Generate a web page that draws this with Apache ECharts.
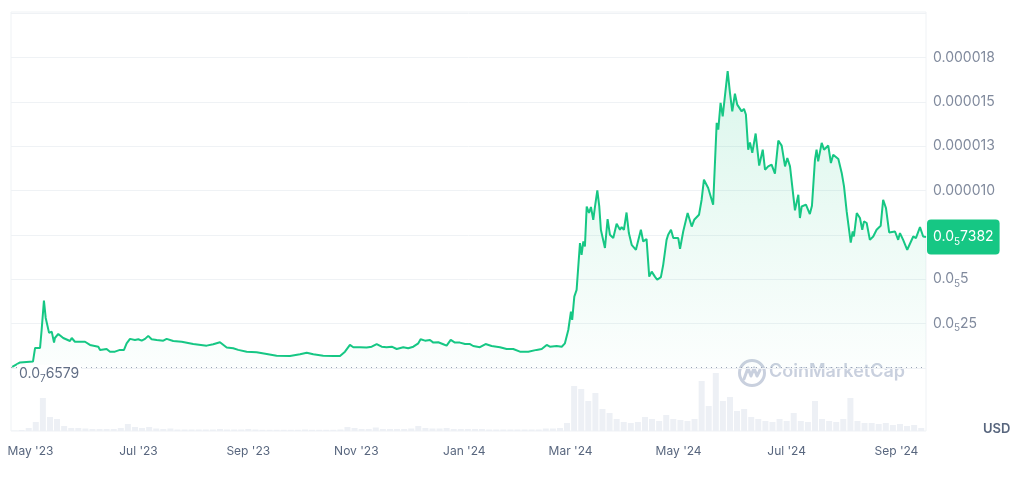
<!DOCTYPE html>
<html>
<head>
<meta charset="utf-8">
<script src="https://cdn.jsdelivr.net/npm/echarts@6/dist/echarts.min.js"></script>
<style>
  html, body { margin: 0; padding: 0; background: #ffffff; }
  #chart { width: 1024px; height: 478px; }
</style>
</head>
<body>
<div id="chart"></div>
<script>
// ---------- data (price in micro-USD, i.e. x 1e-6 USD) ----------
const startDate = '2023-04-20';           // first day of the chart window
const endDay = 516.7;                      // last day shown (days after startDate)

// days after startDate
const priceDays = [
  0.7, 5.1, 12.4, 13.6, 14.5, 16.4, 17.3, 18.6, 19.6, 20.5,
  21.5, 23.0, 24.3, 24.8, 26.7, 29.5, 33.3, 34.3, 36.1, 39.0,
  41.8, 44.6, 49.3, 50.3, 54.0, 55.9, 58.7, 61.5, 63.8, 65.3,
  67.2, 70.0, 71.9, 73.8, 75.7, 77.5, 79.4, 82.3, 86.0, 87.9,
  91.6, 96.4, 102.9, 110.5, 114.2, 118.0, 121.8, 125.5, 128.3, 133.1,
  138.7, 144.4, 150.0, 157.5, 163.2, 167.0, 170.7, 176.3, 182.0, 185.8,
  188.6, 191.4, 193.3, 197.1, 200.8, 203.7, 206.5, 209.3, 212.1, 215.0,
  217.8, 221.5, 224.3, 227.2, 230.0, 231.3, 233.8, 236.6, 238.5, 241.3,
  244.1, 246.0, 248.3, 250.7, 253.5, 256.4, 259.2, 261.0, 264.8, 268.0,
  271.4, 276.1, 279.9, 283.6, 287.4, 292.1, 296.8, 299.7, 302.5, 304.3,
  308.1, 311.0, 312.8, 314.7, 316.2, 316.9, 318.1, 319.4, 321.3, 322.2,
  323.2, 324.1, 325.1, 326.4, 327.5, 328.8, 329.8, 331.1, 332.2, 333.1,
  334.1, 335.4, 336.9, 338.2, 340.1, 342.0, 343.9, 344.8, 346.1, 347.6,
  348.9, 350.5, 352.9, 355.7, 357.0, 358.9, 360.4, 361.8, 363.6, 364.9,
  367.0, 368.3, 370.2, 371.1, 372.7, 374.0, 376.8, 377.8, 379.6, 382.1,
  384.4, 385.8, 388.5, 390.0, 391.3, 393.7, 394.7, 396.5, 398.5, 399.4,
  400.7, 401.9, 404.7, 406.0, 407.3, 408.8, 410.1, 412.6, 413.9, 415.0,
  416.3, 417.3, 418.6, 420.5, 422.5, 424.5, 425.8, 427.6, 429.5, 431.4,
  433.3, 435.2, 437.1, 438.4, 439.9, 442.7, 444.6, 445.5, 446.5, 448.9,
  451.1, 452.3, 454.0, 454.9, 455.8, 457.8, 459.1, 461.5, 463.0, 464.3,
  467.2, 469.1, 470.4, 471.9, 474.2, 475.3, 476.0, 477.6, 479.4, 480.7,
  481.7, 483.2, 485.0, 486.9, 488.8, 491.1, 492.5, 494.1, 495.9, 499.2,
  501.0, 502.0, 503.8, 506.1, 509.5, 511.0, 513.3, 515.1, 516.7
];
const priceValues = [
  0.066, 0.31, 0.36, 1.13, 1.20, 1.13, 2.14, 3.80, 2.82, 2.82,
  1.98, 2.05, 1.43, 1.69, 1.92, 1.69, 1.52, 1.69, 1.48, 1.48,
  1.48, 1.30, 1.20, 1.02, 1.07, 0.92, 0.92, 1.02, 1.02, 1.39,
  1.64, 1.58, 1.62, 1.54, 1.64, 1.81, 1.62, 1.58, 1.54, 1.64,
  1.52, 1.48, 1.35, 1.26, 1.34, 1.45, 1.15, 1.11, 1.02, 0.92,
  0.89, 0.79, 0.69, 0.68, 0.77, 0.86, 0.77, 0.69, 0.68, 0.68,
  0.92, 1.30, 1.17, 1.17, 1.15, 1.20, 1.35, 1.20, 1.17, 1.20,
  1.07, 1.17, 1.11, 1.20, 1.39, 1.62, 1.54, 1.58, 1.43, 1.45,
  1.34, 1.26, 1.58, 1.43, 1.43, 1.35, 1.35, 1.24, 1.17, 1.35,
  1.24, 1.17, 1.07, 1.07, 0.92, 0.92, 1.02, 1.07, 1.30, 1.20,
  1.24, 1.20, 1.39, 2.14, 3.18, 2.71, 4.02, 4.40, 7.04, 6.38,
  7.13, 6.85, 9.10, 8.73, 9.07, 8.35, 9.10, 10.01, 9.10, 7.79,
  7.88, 6.76, 8.39, 7.51, 7.32, 8.13, 7.79, 7.94, 7.79, 8.76,
  7.60, 6.94, 6.66, 7.79, 7.13, 7.26, 5.15, 5.43, 5.15, 4.97,
  5.12, 5.81, 7.22, 7.51, 7.79, 7.32, 7.32, 6.72, 7.69, 8.73,
  7.97, 8.35, 8.63, 9.48, 10.61, 10.14, 10.23, 9.20, 13.81, 13.43,
  14.94, 14.18, 16.72, 15.50, 14.46, 15.45, 14.84, 14.46, 14.60, 14.28,
  12.30, 12.71, 12.12, 13.21, 11.40, 12.30, 11.17, 11.36, 11.46, 10.95,
  12.81, 12.53, 11.36, 11.83, 11.36, 8.88, 9.76, 8.45, 9.10, 9.20,
  8.67, 9.14, 11.74, 12.30, 11.64, 12.68, 12.30, 12.53, 11.55, 12.02,
  11.78, 10.99, 10.23, 8.82, 7.07, 7.69, 7.41, 8.73, 8.45, 7.79,
  8.26, 8.17, 7.22, 7.41, 7.79, 8.01, 9.48, 9.01, 7.64, 7.69,
  7.22, 7.60, 7.22, 6.66, 7.41, 7.32, 7.94, 7.41, 7.382
];

// trading volume (relative units), one bar every 4 days starting at day 2
const volumeFirstDay = 2;
const volumeStepDays = 4;
const volumeValues = [
  0.5, 1, 3, 9, 33, 14, 12, 5, 3, 3,
  2.5, 2, 2, 2, 2, 3, 7, 4, 3, 4,
  2.5, 2, 2.5, 1.5, 1.5, 1.5, 1.5, 1.5, 1.5, 2,
  1.5, 1.5, 1.5, 2, 1.5, 1.2, 1.2, 1.2, 1.2, 1.2,
  1.2, 1.5, 1.2, 1.2, 1.2, 1.2, 1.5, 4, 3, 2,
  2, 3.5, 2, 2, 2, 2, 2.5, 5, 3, 2.5,
  2.5, 3, 2, 2, 2, 2, 2, 1.5, 1.5, 1.5,
  1.5, 1.5, 1.5, 1.5, 1.5, 2.5, 2.5, 3, 8, 45,
  42, 30, 38, 22, 18, 12, 9, 8, 9, 14,
  12, 10, 16, 12, 11, 10, 12, 50, 25, 58,
  30, 34, 20, 22, 14, 12, 10, 9, 12, 10,
  18, 10, 9, 30, 12, 10, 9, 12, 33, 10,
  8, 8, 7, 8, 6, 7, 5, 6, 3
];

const currentPrice = 7.382;       // 0.0₅7382 USD
const minPrice = 0.06579;         // 0.0₇6579 USD

// axis ticks
const xTickDates = ['2023-05-01', '2023-07-01', '2023-09-01', '2023-11-01', '2024-01-01',
                    '2024-03-01', '2024-05-01', '2024-07-01', '2024-09-01'];
const xTickLabels = ["May '23", "Jul '23", "Sep '23", "Nov '23", "Jan '24",
                     "Mar '24", "May '24", "Jul '24", "Sep '24"];
const yTickStep = 2.5;
const yTickLabels = ['', '0.0_5_25', '0.0_5_5', '', '0.000010', '0.000013', '0.000015', '0.000018', ''];
const currentLabel = '0.0_5_7382';
const minLabel = '0.0_7_6579';

// ---------- build ----------
const DAY = 86400000;
const T0 = Date.parse(startDate + 'T00:00:00Z');
const priceData = priceDays.map((d, i) => [d, priceValues[i]]);
const volumeData = volumeValues.map((v, i) => [volumeFirstDay + i * volumeStepDays, v]);
const xTickDays = xTickDates.map(s => Math.round((Date.parse(s + 'T00:00:00Z') - T0) / DAY));

const FONT = 'Inter, "Noto Sans", sans-serif';
const GRID = '#eff2f5';
const LABEL = '#808a9d';
const GREEN = '#16c784';

function rich(lbl, n, s) {
  const p = lbl.split('_');
  if (p.length === 3) return '{' + n + '|' + p[0] + '}{' + s + '|' + p[1] + '}{' + n + '|' + p[2] + '}';
  return lbl ? '{' + n + '|' + lbl + '}' : '';
}

const chart = echarts.init(document.getElementById('chart'), null, { renderer: 'canvas' });

chart.setOption({
  animation: false,
  backgroundColor: '#ffffff',
  title: {
    text: 'USD', left: 978, top: 418,
    textStyle: { fontSize: 13, fontWeight: 600, color: '#58667e', fontFamily: FONT }
  },
  grid: [
    { left: 11, right: 98, top: 13, bottom: 110, show: false },
    { left: 11, right: 98, top: 372, bottom: 47, show: false },
    { left: 11, right: 98, top: 12, bottom: 47, show: true, borderColor: GRID, borderWidth: 1, backgroundColor: 'transparent' }
  ],
  xAxis: [
    { type: 'value', gridIndex: 0, min: 0, max: endDay,
      axisLine: { show: false }, axisTick: { show: false }, axisLabel: { show: false }, splitLine: { show: false } },
    { type: 'value', gridIndex: 1, min: 0, max: endDay,
      axisLine: { show: false }, axisTick: { show: false }, splitLine: { show: false },
      axisLabel: {
        customValues: xTickDays,
        margin: 14, fontSize: 12, color: '#58667e', fontFamily: FONT,
        formatter: function (v) {
          const i = xTickDays.indexOf(Math.round(v));
          return i >= 0 ? xTickLabels[i] : '';
        }
      } },
    { type: 'value', gridIndex: 2, show: false }
  ],
  yAxis: [
    { type: 'value', gridIndex: 0, position: 'right', min: 0, max: 20, interval: yTickStep,
      axisLine: { show: false }, axisTick: { show: false },
      splitLine: { show: true, lineStyle: { color: GRID, width: 1 } },
      axisLabel: {
        margin: 7, showMinLabel: true, showMaxLabel: true,
        formatter: function (v) {
          const i = Math.round(v / yTickStep);
          return rich(yTickLabels[i] || '', 'n', 's');
        },
        rich: {
          n: { fontSize: 14, color: LABEL, fontFamily: FONT },
          s: { fontSize: 10, color: LABEL, fontFamily: FONT, padding: [9, 0, 0, 0] }
        }
      } },
    { type: 'value', gridIndex: 1, min: 0, max: 59, show: false },
    { type: 'value', gridIndex: 2, show: false }
  ],
  series: [
    {
      name: 'Volume', type: 'bar', xAxisIndex: 1, yAxisIndex: 1,
      data: volumeData, barWidth: 6, silent: true,
      itemStyle: { color: '#edf0f5' }
    },
    {
      name: 'Price', type: 'line', xAxisIndex: 0, yAxisIndex: 0,
      data: priceData, showSymbol: false, symbol: 'none', clip: false,
      lineStyle: { color: GREEN, width: 2 },
      areaStyle: {
        color: new echarts.graphic.LinearGradient(0, 0, 0, 1, [
          { offset: 0, color: 'rgba(22,199,132,0.22)' },
          { offset: 1, color: 'rgba(22,199,132,0.02)' }
        ])
      },
      markLine: {
        silent: true, symbol: ['none', 'none'], animation: false,
        data: [
          {
            yAxis: minPrice,
            lineStyle: { type: [1, 4], color: '#9aa3b5', width: 1 },
            label: {
              show: true, position: 'insideStartTop', distance: 6, offset: [0, 23],
              backgroundColor: '#ffffff', padding: [0, 2],
              formatter: function () { return rich(minLabel, 'm', 'ms'); },
              rich: {
                m: { fontSize: 14, color: '#616e85', fontFamily: FONT },
                ms: { fontSize: 10, color: '#616e85', fontFamily: FONT, padding: [9, 0, 0, 0] }
              }
            }
          },
          {
            yAxis: currentPrice,
            lineStyle: { color: 'rgba(255,255,255,0)', width: 1, type: 'solid' },
            label: {
              show: true, position: 'end', distance: 1,
              backgroundColor: GREEN, borderRadius: 4, padding: [8, 6, 8, 6],
              formatter: function () { return rich(currentLabel, 'w', 'ws'); },
              rich: {
                w: { fontSize: 14, color: '#ffffff', fontFamily: FONT },
                ws: { fontSize: 10, color: '#ffffff', fontFamily: FONT, padding: [9, 0, 0, 0] }
              }
            }
          }
        ]
      }
    }
  ],
  graphic: [
    {
      type: 'group', left: 737, top: 358, silent: true,
      children: [
        { type: 'circle', shape: { cx: 14, cy: 14, r: 12.5 },
          style: { fill: 'none', stroke: '#c9d0de', lineWidth: 3 } },
        { type: 'polyline', shape: { points: [[6, 20], [10, 9], [13, 17], [16, 9], [19, 17], [22, 11]] },
          style: { fill: 'none', stroke: '#c9d0de', lineWidth: 3, lineJoin: 'round', lineCap: 'round' } },
        { type: 'text', x: 31, y: 4,
          style: { text: 'CoinMarketCap', fontSize: 18, fontWeight: 600, fill: '#c9d0de', fontFamily: FONT } }
      ]
    }
  ]
});
</script>
</body>
</html>
